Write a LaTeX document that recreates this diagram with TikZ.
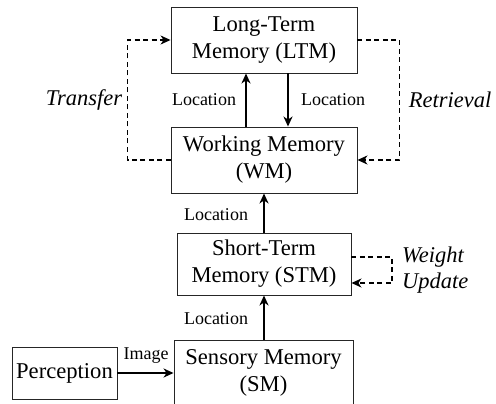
\documentclass[tikz,border=0pt]{standalone}
\usepackage{fontspec}
\setmainfont{Liberation Serif}
\newfontfamily\tfont{Liberation Serif}
\usetikzlibrary{arrows.meta}
\begin{document}
\begin{tikzpicture}[x=1pt,y=-1pt,
  box/.style={draw=black!85,line width=0.9pt,align=center,inner sep=0pt,
    font=\tfont\fontsize{22.6}{27}\selectfont},
  lbl/.style={font=\tfont\fontsize{18}{21}\selectfont,inner sep=0pt},
  itl/.style={font=\tfont\fontsize{22.5}{26}\selectfont\itshape,inner sep=0pt,align=left},
  arr/.style={line width=1.6pt,-{Stealth[length=10pt,width=9pt,inset=3pt]}},
  darr/.style={line width=1.3pt,dash pattern=on 5pt off 3.5pt,-{Stealth[length=10pt,width=9pt,inset=3pt]}}]
\useasboundingbox (0,0) rectangle (496,404);
\node[box,minimum width=186pt,minimum height=66pt] (ltm) at (264,40) {Long-Term\\Memory (LTM)};
\node[box,minimum width=186pt,minimum height=66pt] (wm) at (264,160) {Working Memory\\(WM)};
\node[box,minimum width=174pt,minimum height=62pt] (stm) at (264,264) {Short-Term\\Memory (STM)};
\node[box,minimum width=179pt,minimum height=66pt] (sm) at (263.5,373) {Sensory Memory\\(SM)};
\node[box,minimum width=105pt,minimum height=52pt] (perc) at (64.5,373) {Perception};
\draw[arr] ([xshift=-18pt]wm.north) -- ([xshift=-18pt]ltm.south);
\draw[arr] ([xshift=24pt]ltm.south) -- ([xshift=24pt]wm.north);
\draw[arr] (stm.north) -- (wm.south);
\draw[arr] (sm.north -| stm.north) -- (stm.south);
\draw[arr] (perc.east) -- (sm.west);
\node[lbl] (l1) at (204,100) {Location};
\node[lbl] (l2) at (333,100) {Location};
\node[lbl] (l3) at (216,215) {Location};
\node[lbl] (l4) at (216,319) {Location};
\node[lbl] (l5) at (146,356) {Image};
\draw[darr] (wm.west) -- ++(-43,0) |- (ltm.west);
\draw[darr] (ltm.east) -- ++(42,0) |- (wm.east);
\coordinate (wu) at (392,257);
\draw[darr] ([yshift=7pt]stm.east) -- (wu) |- ([yshift=-19pt]stm.east);
\node[itl] (tr) at (84,100) {Transfer};
\node[itl] (re) at (450,100) {Retrieval};
\node[itl,anchor=west] (wt) at (402,270) {Weight\\Update};
\end{tikzpicture}
\end{document}
